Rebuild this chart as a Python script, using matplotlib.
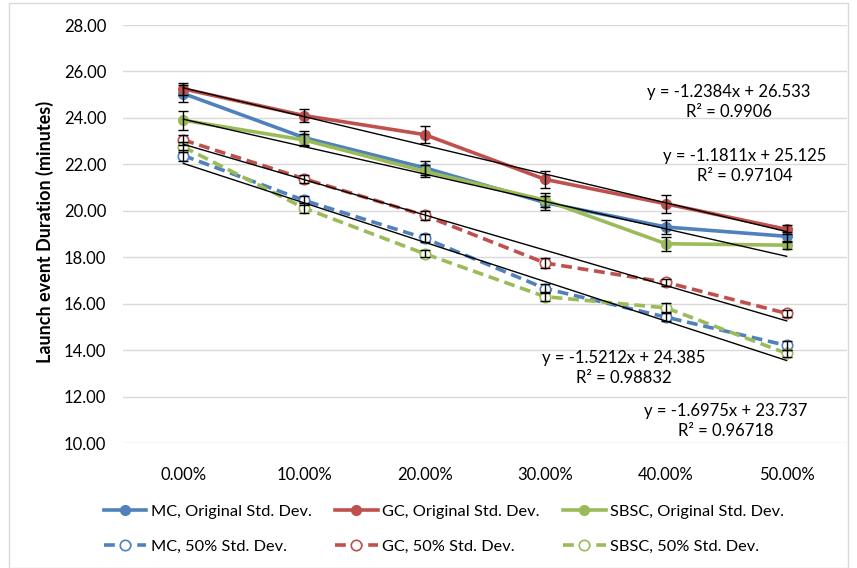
import matplotlib
matplotlib.use("Agg")
import matplotlib.pyplot as plt
from matplotlib.patches import Rectangle
import numpy as np

plt.rcParams['font.family'] = ['Lato', 'DejaVu Sans']

categories = ["0.00%", "10.00%", "20.00%", "30.00%", "40.00%", "50.00%"]

mc_orig = [25.05, 23.15, 21.85, 20.35, 19.3, 18.9]
gc_orig = [25.25, 24.1, 23.28, 21.35, 20.3, 19.2]
sbsc_orig = [23.9, 23.05, 21.7, 20.45, 18.58, 18.52]
mc_50 = [22.38, 20.45, 18.82, 16.65, 15.42, 14.2]
gc_50 = [23.05, 21.38, 19.8, 17.75, 16.92, 15.58]
sbsc_50 = [22.75, 20.12, 18.15, 16.3, 15.82, 13.86]

mc_orig_err = [0.35, 0.3, 0.3, 0.3, 0.3, 0.2]
gc_orig_err = [0.25, 0.28, 0.37, 0.35, 0.4, 0.2]
sbsc_orig_err = [0.4, 0.25, 0.25, 0.3, 0.3, 0.15]
mc_50_err = [0.22, 0.2, 0.18, 0.2, 0.18, 0.18]
gc_50_err = [0.2, 0.18, 0.18, 0.2, 0.15, 0.15]
sbsc_50_err = [0.22, 0.22, 0.15, 0.2, 0.2, 0.15]

labels = ["MC, Original Std. Dev.", "MC, 50% Std. Dev.",
          "GC, Original Std. Dev.", "GC, 50% Std. Dev.",
          "SBSC, Original Std. Dev.", "SBSC, 50% Std. Dev."]

# trendlines (Excel x = 1..6)
trend_slopes = [-1.2384, -1.1811, -1.5212, -1.6975]
trend_intercepts = [26.533, 25.125, 24.385, 23.737]
trend_texts = ["y = -1.2384x + 26.533\nR² = 0.9906",
               "y = -1.1811x + 25.125\nR² = 0.97104",
               "y = -1.5212x + 24.385\nR² = 0.98832",
               "y = -1.6975x + 23.737\nR² = 0.96718"]

BLUE = "#4F81BD"
RED = "#C0504D"
GREEN = "#9BBB59"

fig = plt.figure(figsize=(8.57, 5.68), dpi=100)
ax = fig.add_axes([123/857, 1-443/568, (847-123)/857, (443-25)/568])

x = np.arange(len(categories))

series = [
    (mc_orig, mc_orig_err, BLUE, '-', True),
    (mc_50, mc_50_err, BLUE, '--', False),
    (gc_orig, gc_orig_err, RED, '-', True),
    (gc_50, gc_50_err, RED, '--', False),
    (sbsc_orig, sbsc_orig_err, GREEN, '-', True),
    (sbsc_50, sbsc_50_err, GREEN, '--', False),
]

draw_order = [0, 2, 4, 1, 3, 5]
hmap = {}
for i in draw_order:
    vals, err, col, ls, filled = series[i]
    ax.errorbar(x, vals, yerr=err, fmt='none', ecolor='black', elinewidth=1,
                capsize=3.5, capthick=1, zorder=4)
    if filled:
        h, = ax.plot(x, vals, color=col, lw=2.6, ls=ls, marker='o', ms=7,
                     mfc=col, mec=col, zorder=3, label=labels[i])
    else:
        h, = ax.plot(x, vals, color=col, lw=2.6, ls=(0, (3, 1.6)), marker='o', ms=7.5,
                     mfc='white', mec=col, mew=1.2, zorder=3, label=labels[i])
    hmap[i] = h

xt = np.array([0, 5])
for m, b in zip(trend_slopes, trend_intercepts):
    ax.plot(xt, m * (xt + 1) + b, color='black', lw=1, zorder=5)

text_pos = [(729, 102), (745, 166), (624, 368), (726, 421)]
for (px, py), t in zip(text_pos, trend_texts):
    fig.text(px/857, 1-py/568, t, ha='center', va='center', fontsize=12,
             linespacing=1.25)

ax.set_xlim(-0.5, 5.5)
ax.set_ylim(10, 28)
ax.set_yticks(np.arange(10, 28.1, 2))
ax.set_yticklabels([f"{v:.2f}" for v in np.arange(10, 28.1, 2)], fontsize=12)
ax.set_xticks(x)
ax.set_xticklabels(categories, fontsize=12)
ax.tick_params(axis='both', length=0)
ax.tick_params(axis='y', pad=12)
ax.tick_params(axis='x', pad=17)
ax.grid(axis='y', color='#D9D9D9', lw=1)
ax.set_axisbelow(True)
for s in ax.spines.values():
    s.set_visible(False)

fig.text(45/857, 1-232/568, "Launch event Duration (minutes)", rotation=90,
         ha='center', va='center', fontsize=13, fontweight='bold')

leg = fig.legend([hmap[i] for i in range(6)], labels, ncol=3, loc='center',
                 bbox_to_anchor=(444/857, 1-529/568), frameon=False, fontsize=11.8,
                 handlelength=2.6, handletextpad=0.3, columnspacing=1.4,
                 labelspacing=1.25)

fig.patches.append(Rectangle((9/857, 0), (848-9)/857, 1-3/568, transform=fig.transFigure,
                             fill=False, edgecolor='#D9D9D9', lw=1))

fig.savefig("out.png", dpi=100)
